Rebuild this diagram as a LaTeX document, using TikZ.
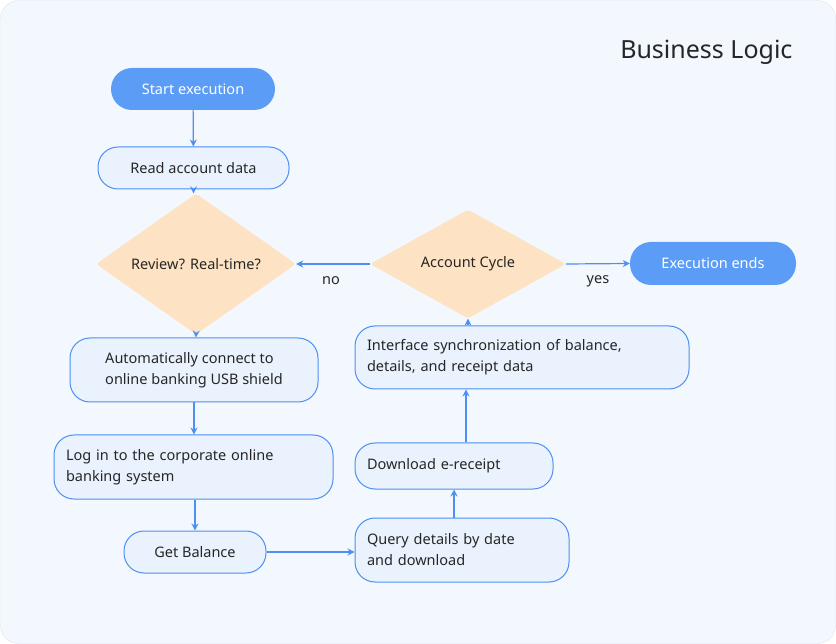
\documentclass[tikz,border=0pt]{standalone}
\usepackage{fontspec}
\setmainfont{Noto Sans}
\usetikzlibrary{shapes.geometric,arrows.meta}
\definecolor{bl}{HTML}{4D8FF2}
\definecolor{bfill}{HTML}{5B9CF6}
\definecolor{lfill}{HTML}{EAF2FE}
\definecolor{pch}{HTML}{FDE3C3}
\definecolor{bg}{HTML}{F3F8FE}
\definecolor{bgb}{HTML}{DCE6F2}
\begin{document}
\begin{tikzpicture}[x=1pt,y=-1pt,
  every node/.style={font=\fontsize{14.5}{21}\selectfont, text=black!85},
  box/.style={draw=bl, line width=1pt, fill=lfill, rounded corners=20pt, inner sep=0pt},
  term/.style={fill=bfill, rounded corners=21pt, text=white, inner sep=0pt},
  dia/.style={diamond, fill=pch, inner sep=0pt, rounded corners=3pt},
  arr/.style={draw=bl, line width=1.2pt, -{Stealth[length=7pt,width=7pt]}}]
\useasboundingbox (0,0) rectangle (836,644);
\fill[bg, draw=bgb, rounded corners=18pt] (0.5,0.5) rectangle (835.5,643.5);
\node[anchor=east, font=\fontsize{25}{30}\selectfont, text=black!85] (title) at (796,52) {Business Logic};
\node[term, minimum width=164pt, minimum height=42pt] (start) at (193,89) {Start execution};
\node[box, minimum width=191pt, minimum height=42pt] (read) at (193.5,168) {Read account data};
\node[dia, minimum width=200pt, minimum height=48pt] (rev) at (196,264) {Review? Real-time?};
\node[dia, minimum width=196pt, minimum height=72pt] (acc) at (468,264) {Account Cycle};
\node[term, minimum width=166pt, minimum height=43pt] (end) at (713,263.5) {Execution ends};
\node[box, minimum width=248pt, minimum height=64pt, align=left] (auto) at (194,370) {Automatically connect to\\online banking USB shield};
\node[box, minimum width=279pt, minimum height=64pt, text width=255pt, align=left] (log) at (193.5,467) {Log in to the corporate online\\banking system};
\node[box, minimum width=142pt, minimum height=42pt] (bal) at (195,552) {Get Balance};
\node[box, minimum width=214pt, minimum height=64pt, text width=190pt, align=left] (qry) at (462,550) {Query details by date\\and download};
\node[box, minimum width=198pt, minimum height=46pt, text width=174pt, align=left] (dl) at (454,466) {Download e-receipt};
\node[box, minimum width=334pt, minimum height=63pt, text width=310pt, align=left] (ifs) at (522,357.5) {Interface synchronization of balance,\\details, and receipt data};
\node (no) at (331,281) {no};
\node (yes) at (598,281) {yes};
\coordinate (c1) at (466,0);
\draw[arr] (start) -- (read);
\draw[arr] (read) -- (read|-rev.north);
\draw[arr] (rev.south) -- (auto);
\draw[arr] (auto) -- (auto|-log.north);
\draw[arr] (log.south-|bal) -- (bal);
\draw[arr] (bal) -- (qry.west|-bal);
\draw[arr] (qry.north-|dl) -- (dl);
\draw[arr] (dl.north-|c1) -- (ifs.south-|c1);
\draw[arr] (ifs.north-|acc) -- (acc.south);
\draw[arr] (acc.west) -- (rev.east);
\draw[arr] (acc.east) -- (end.west);
\end{tikzpicture}
\end{document}
